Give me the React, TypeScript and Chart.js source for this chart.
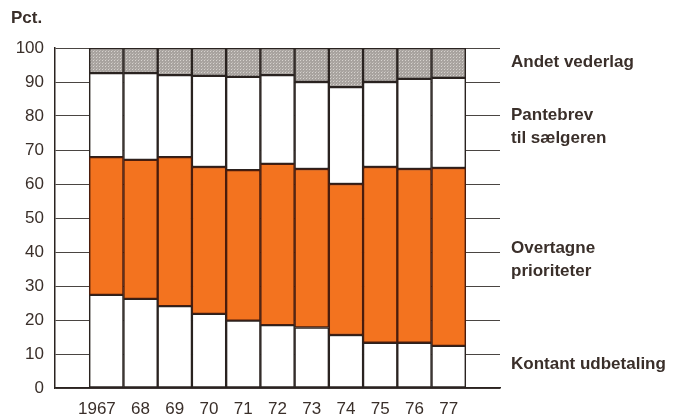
import React, { useEffect, useRef } from 'react';
import { Chart, registerables } from 'chart.js';

Chart.register(...registerables);

// ---- data ----
const years = ['1967', '68', '69', '70', '71', '72', '73', '74', '75', '76', '77'];
const kontant = [27.4, 26.2, 24.1, 21.8, 19.8, 18.5, 17.8, 15.6, 13.3, 13.3, 12.4];
const overtagne = [40.5, 40.9, 43.8, 43.2, 44.3, 47.4, 46.6, 44.4, 51.7, 51.1, 52.3];
const pantebrev = [24.7, 25.5, 24.1, 26.8, 27.4, 26.1, 25.6, 28.5, 25.0, 26.5, 26.5];
const andet = [7.4, 7.4, 8.0, 8.2, 8.5, 8.0, 10.0, 11.5, 10.0, 9.1, 8.8];
const seriesNames = ['Kontant udbetaling', 'Overtagne prioriteter', 'Pantebrev til sælgeren', 'Andet vederlag'];
const rightLabels: { lines: string[]; value: number }[] = [
  { lines: ['Andet vederlag'], value: 95.8 },
  { lines: ['Pantebrev', 'til sælgeren'], value: 80.1 },
  { lines: ['Overtagne', 'prioriteter'], value: 41.2 },
  { lines: ['Kontant udbetaling'], value: 7.1 },
];
const yAxisTitle = 'Pct.';

const TEXT = '#3a2f2a';
const LINE = '#2a2320';
const ORANGE_LINE = '#4a1c0c';
const GRID = '#4a4542';
const ORANGE = '#f3731f';
const FONT = '"Liberation Sans", Arial, Helvetica, sans-serif';

function makePattern(): CanvasPattern | string {
  const c = document.createElement('canvas');
  c.width = 3;
  c.height = 3;
  const g = c.getContext('2d');
  if (!g) return '#aea9a6';
  g.fillStyle = '#a8a39f';
  g.fillRect(0, 0, 3, 3);
  g.fillStyle = '#d6d2ce';
  g.fillRect(0, 0, 1, 1);
  g.fillStyle = '#bcb7b3';
  g.fillRect(1, 2, 1, 1);
  const p = g.createPattern(c, 'repeat');
  return p || '#aea9a6';
}

const labelsPlugin = {
  id: 'customLabels',
  afterDraw(chart: any) {
    const { ctx } = chart;
    const x = chart.scales.x;
    const y = chart.scales.y;
    ctx.save();
    ctx.fillStyle = TEXT;
    ctx.textBaseline = 'middle';
    ctx.font = `bold 17px ${FONT}`;
    ctx.textAlign = 'left';
    ctx.fillText(yAxisTitle, 11, 18);
    rightLabels.forEach((l) => {
      const y0 = y.getPixelForValue(l.value);
      l.lines.forEach((t, i) => ctx.fillText(t, 511, y0 + i * 23));
    });
    ctx.font = `17px ${FONT}`;
    ctx.textAlign = 'right';
    years.forEach((lab, i) => {
      const cx = x.getPixelForValue(i + 1);
      const w = ctx.measureText(lab.slice(-2)).width;
      ctx.fillText(lab, cx + w / 2, 409);
    });
    ctx.restore();
  },
};

export default function App() {
  const ref = useRef<HTMLCanvasElement | null>(null);
  useEffect(() => {
    if (!ref.current) return;
    const pad = (arr: number[]) => [null, ...arr, null];
    const common = {
      borderWidth: 1.5,
      borderSkipped: false,
      barPercentage: 1,
      categoryPercentage: 1,
    };
    const chart = new Chart(ref.current, {
      type: 'bar',
      data: {
        labels: ['', ...years, ''],
        datasets: [
          { label: seriesNames[0], data: pad(kontant), backgroundColor: '#ffffff', borderColor: LINE, ...common },
          { label: seriesNames[1], data: pad(overtagne), backgroundColor: ORANGE, borderColor: ORANGE_LINE, ...common },
          { label: seriesNames[2], data: pad(pantebrev), backgroundColor: '#ffffff', borderColor: LINE, ...common },
          { label: seriesNames[3], data: pad(andet), backgroundColor: makePattern(), borderColor: LINE, ...common },
        ] as any,
      },
      options: {
        responsive: false,
        maintainAspectRatio: false,
        animation: false,
        layout: { padding: { top: 48, right: 177, left: 0, bottom: 0 } },
        plugins: { legend: { display: false }, tooltip: { enabled: false } },
        scales: {
          x: {
            stacked: true,
            grid: { display: false, drawTicks: false },
            border: { display: true, color: LINE, width: 1.5 },
            ticks: { display: false },
            afterFit: (s: any) => {
              s.height = 28;
            },
          },
          y: {
            stacked: true,
            min: 0,
            max: 100,
            ticks: {
              stepSize: 10,
              color: TEXT,
              font: { family: FONT, size: 17 },
              padding: 11,
            },
            grid: { color: GRID, lineWidth: 1, drawTicks: false },
            border: { display: true, color: LINE, width: 1.5 },
            afterFit: (s: any) => {
              s.width = 55;
            },
          },
        },
      } as any,
      plugins: [labelsPlugin],
    });
    return () => chart.destroy();
  }, []);
  return (
    <div style={{ position: 'absolute', left: 0, top: 0, width: 677, height: 416, background: '#fff' }}>
      <canvas ref={ref} width={677} height={416} style={{ display: 'block' }} />
    </div>
  );
}
